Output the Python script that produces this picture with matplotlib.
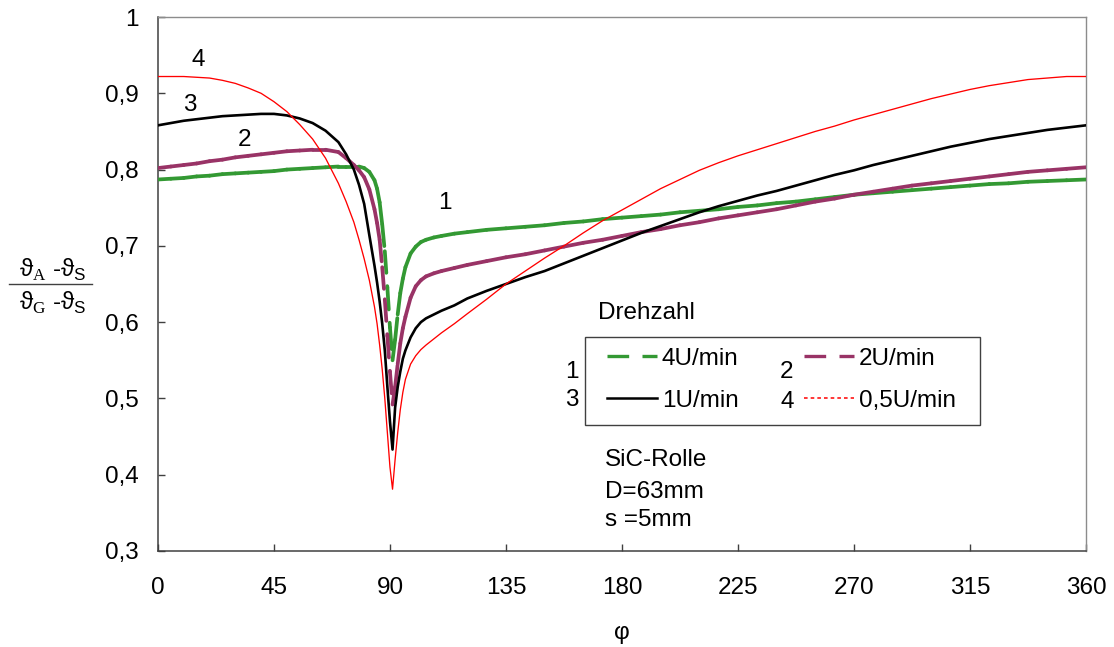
import matplotlib
matplotlib.use("Agg")
import matplotlib.pyplot as plt
import numpy as np
from matplotlib.collections import LineCollection
from matplotlib.lines import Line2D
from matplotlib.patches import Rectangle

plt.rcParams['font.family'] = ['Liberation Sans', 'DejaVu Sans']
plt.rcParams['mathtext.fontset'] = 'custom'
plt.rcParams['mathtext.rm'] = 'Liberation Serif'
plt.rcParams['mathtext.sf'] = 'Liberation Sans'
plt.rcParams['lines.scale_dashes'] = False

# angle of rotation (degrees)
phi = [0, 5, 10, 15, 20, 25, 30, 35, 40, 45, 50, 55, 60, 65, 70, 73, 76, 78,
       80, 82, 84, 85, 86, 87, 88, 89, 90, 91, 92, 93, 94, 95, 96, 98,
       100, 102, 104, 107, 110, 115,
       120, 127.5, 135, 142.5, 150, 157.5, 165, 172.5, 180, 187.5, 195,
       202.5, 210, 217.5, 225, 232.5, 240, 247.5, 255, 262.5, 270, 277.5,
       285, 292.5, 300, 307.5, 315, 322.5, 330, 337.5, 345, 352.5, 360]

# dimensionless temperature (thA - thS) / (thG - thS) per speed
t_4rpm = [0.787, 0.788, 0.789, 0.791, 0.792, 0.794, 0.795, 0.796, 0.797,
          0.798, 0.800, 0.801, 0.802, 0.803, 0.804, 0.804, 0.804, 0.804,
          0.802, 0.797, 0.786, 0.775, 0.757, 0.728, 0.693, 0.645, 0.593,
          0.550, 0.577, 0.610, 0.638, 0.657, 0.672, 0.690,
          0.699, 0.705, 0.708, 0.711, 0.713, 0.716,
          0.718, 0.721, 0.723, 0.725, 0.727, 0.730, 0.732, 0.735, 0.737, 0.739,
          0.741, 0.744, 0.746, 0.748, 0.751, 0.753, 0.756, 0.758, 0.761, 0.764,
          0.767, 0.769, 0.771, 0.773, 0.775, 0.777, 0.779, 0.781, 0.782, 0.784,
          0.785, 0.786, 0.787]

t_2rpm = [0.802, 0.804, 0.806, 0.808, 0.811, 0.813, 0.816, 0.818, 0.820,
          0.822, 0.824, 0.825, 0.826, 0.826, 0.823, 0.815, 0.806, 0.799,
          0.790, 0.774, 0.748, 0.730, 0.708, 0.672, 0.630, 0.582, 0.535,
          0.492, 0.515, 0.545, 0.572, 0.592, 0.607, 0.632,
          0.647, 0.655, 0.660, 0.664, 0.667, 0.671,
          0.675, 0.680, 0.685, 0.689, 0.694, 0.699, 0.704, 0.708, 0.713, 0.718,
          0.722, 0.727, 0.731, 0.736, 0.740, 0.744, 0.748, 0.753, 0.758, 0.762,
          0.767, 0.771, 0.775, 0.779, 0.782, 0.785, 0.788, 0.791, 0.794, 0.797,
          0.799, 0.801, 0.803]

t_1rpm = [0.858, 0.861, 0.864, 0.866, 0.868, 0.870, 0.871, 0.872, 0.873,
          0.873, 0.871, 0.867, 0.861, 0.851, 0.836, 0.820, 0.800, 0.780,
          0.755, 0.714, 0.674, 0.652, 0.627, 0.598, 0.563, 0.515, 0.470,
          0.433, 0.488, 0.515, 0.535, 0.552, 0.563, 0.580,
          0.592, 0.600, 0.605, 0.610, 0.615, 0.622,
          0.631, 0.641, 0.650, 0.659, 0.667, 0.677, 0.687, 0.697, 0.707, 0.717,
          0.726, 0.735, 0.744, 0.752, 0.759, 0.766, 0.772, 0.779, 0.786, 0.793,
          0.799, 0.806, 0.812, 0.818, 0.824, 0.830, 0.835, 0.840, 0.844, 0.848,
          0.852, 0.855, 0.858]

t_05rpm = [0.922, 0.922, 0.922, 0.921, 0.920, 0.917, 0.913, 0.907, 0.900,
           0.889, 0.876, 0.859, 0.840, 0.815, 0.782, 0.758, 0.731, 0.708,
           0.683, 0.655, 0.620, 0.598, 0.570, 0.538, 0.500, 0.455, 0.410,
           0.381, 0.420, 0.455, 0.485, 0.508, 0.525, 0.545,
           0.556, 0.564, 0.570, 0.578, 0.586, 0.598,
           0.611, 0.630, 0.650, 0.667, 0.684, 0.700, 0.717, 0.733, 0.747, 0.761,
           0.775, 0.787, 0.799, 0.809, 0.818, 0.826, 0.834, 0.842, 0.850, 0.857,
           0.865, 0.872, 0.879, 0.886, 0.893, 0.899, 0.905, 0.910, 0.914, 0.918,
           0.920, 0.922, 0.922]

speed_labels = ['4U/min', '2U/min', '1U/min', '0,5U/min']
curve_ids = ['1', '2', '3', '4']

x_ticks = [0, 45, 90, 135, 180, 225, 270, 315, 360]
y_ticks = [0.3, 0.4, 0.5, 0.6, 0.7, 0.8, 0.9, 1.0]

GREEN = '#339933'
PURPLE = '#993366'
FS = 17.5
DASH = (0, (15.6, 9.6))
DOT = (0, (2.6, 2.2))

fig = plt.figure(figsize=(11.14, 6.47), dpi=100)
ax = fig.add_axes([0.1418, 0.1484, 0.8330, 0.8253])


def segmented(x, y, color, lw, style, z):
    # dash pattern restarts on every segment between two data points
    pts = np.column_stack([x, y])
    segs = np.stack([pts[:-1], pts[1:]], axis=1)
    lc = LineCollection(segs, colors=color, linewidths=lw, linestyles=[style],
                        zorder=z)
    lc.set_capstyle('round')
    ax.add_collection(lc)


segmented(phi, t_4rpm, GREEN, 2.7, DASH, 3)
segmented(phi, t_2rpm, PURPLE, 2.7, DASH, 4)
ax.plot(phi, t_1rpm, color='black', lw=1.9, zorder=5, solid_joinstyle='round')
ax.plot(phi, t_05rpm, color='#ff0000', lw=0.95, zorder=6, solid_joinstyle='round')

ax.set_xlim(0, 360)
ax.set_ylim(0.3, 1.0)
ax.set_xticks(x_ticks)
ax.set_xticklabels([str(v) for v in x_ticks])
ax.set_yticks(y_ticks)
ax.set_yticklabels([('%g' % v).replace('.', ',') for v in y_ticks])
ax.tick_params(axis='both', direction='in', length=5, width=1, color='#404040',
               labelsize=FS)
ax.tick_params(axis='x', pad=19)
ax.tick_params(axis='y', pad=14)
for s in ['left', 'bottom']:
    ax.spines[s].set_color('#404040')
    ax.spines[s].set_linewidth(1.1)
for s in ['top', 'right']:
    ax.spines[s].set_color('#8c8c8c')
    ax.spines[s].set_linewidth(1.0)

ax.set_xlabel('φ', fontsize=FS, labelpad=16)

# y-axis label drawn as a fraction
fig.text(53 / 1114, 1 - 270 / 647,
         r'ϑ$_\mathrm{A}$ -ϑ$_\mathsf{S}$', fontsize=FS, ha='center',
         va='center')
fig.text(53 / 1114, 1 - 303 / 647,
         r'ϑ$_\mathrm{G}$ -ϑ$_\mathsf{S}$', fontsize=FS, ha='center',
         va='center')
fig.add_artist(Line2D([9 / 1114, 92 / 1114], [1 - 284 / 647, 1 - 284 / 647],
                      color='#404040', lw=1.0))

# curve numbers
ax.text(15.6, 0.943, curve_ids[3], fontsize=FS, ha='center', va='center')
ax.text(12.4, 0.885, curve_ids[2], fontsize=FS, ha='center', va='center')
ax.text(33.7, 0.839, curve_ids[1], fontsize=FS, ha='center', va='center')
ax.text(111.3, 0.756, curve_ids[0], fontsize=FS, ha='center', va='center')

# legend
handles = [Line2D([], [], color=GREEN, lw=2.4, linestyle=DASH),
           Line2D([], [], color='black', lw=1.8),
           Line2D([], [], color=PURPLE, lw=2.4, linestyle=DASH),
           Line2D([], [], color='#ff0000', lw=1.1, linestyle=DOT)]
labels = [speed_labels[0], speed_labels[2], speed_labels[1], speed_labels[3]]
leg = ax.legend(handles, labels, ncol=2, loc='upper left',
                bbox_to_anchor=((607 - 158) / 928, (551 - 347.6) / 534),
                frameon=False, fontsize=FS, borderpad=0, borderaxespad=0,
                handlelength=2.06, handletextpad=0.2, columnspacing=2.7,
                labelspacing=0.83)
ax.add_patch(Rectangle(((585 - 158) / 928, (551 - 425) / 534),
                       (980 - 585) / 928, (425 - 337) / 534,
                       transform=ax.transAxes, fill=False,
                       edgecolor='#404040', lw=1.0, zorder=7))
ax.text(170.7, 0.612, 'Drehzahl', fontsize=FS, ha='left', va='center')
ax.text(160.6, 0.535, curve_ids[0], fontsize=FS, ha='center', va='center')
ax.text(160.6, 0.498, curve_ids[2], fontsize=FS, ha='center', va='center')
ax.text(244.0, 0.535, curve_ids[1], fontsize=FS, ha='center', va='center')
ax.text(244.0, 0.495, curve_ids[3], fontsize=FS, ha='center', va='center')

ax.text(173.4, 0.419, 'SiC-Rolle', fontsize=FS, ha='left', va='center')
ax.text(173.4, 0.377, 'D=63mm', fontsize=FS, ha='left', va='center')
ax.text(173.4, 0.341, 's =5mm', fontsize=FS, ha='left', va='center')

fig.savefig('out.png', dpi=100)
